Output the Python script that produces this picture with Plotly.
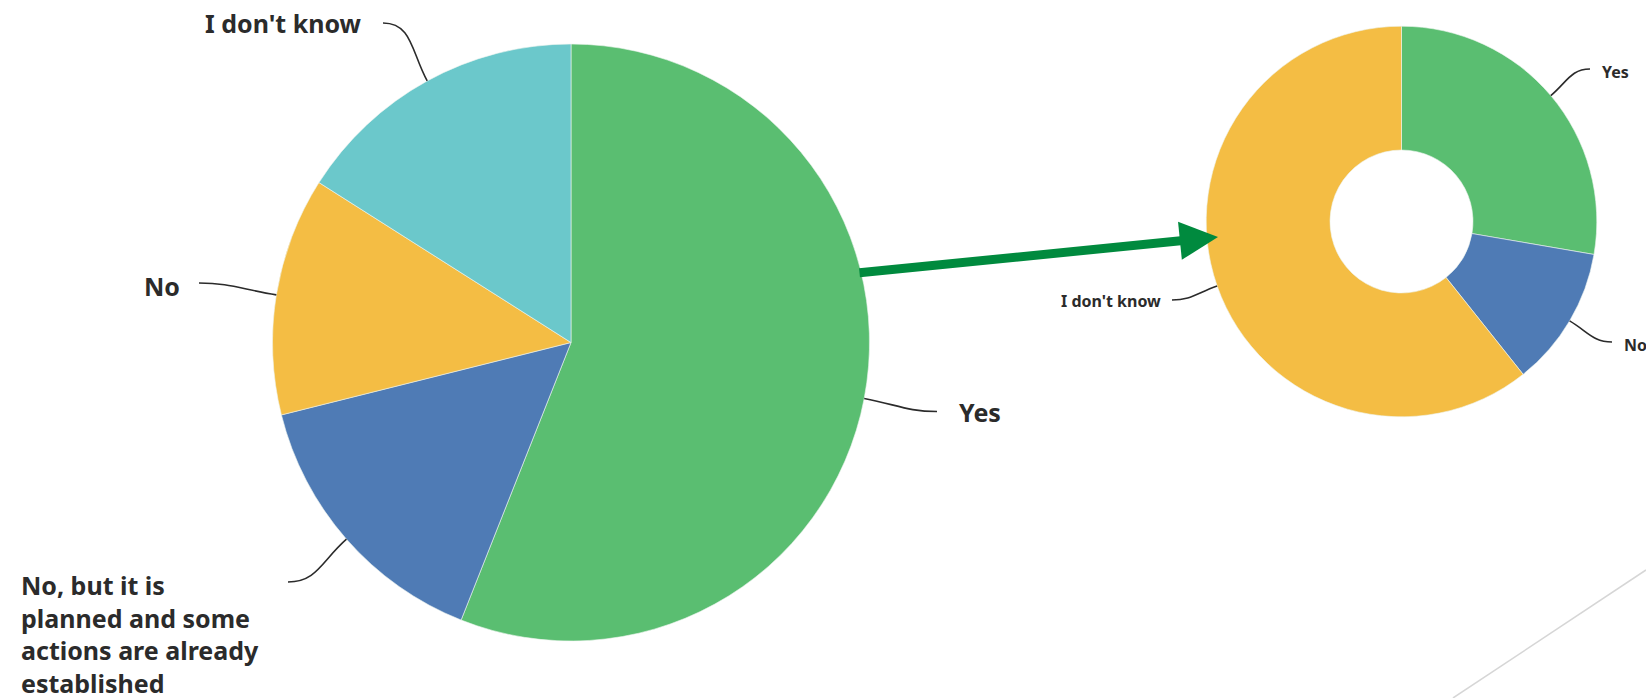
import math
import plotly.graph_objects as go

W, H = 1646, 698

# ---- data ----
main_labels = ["Yes", "No, but it is planned and some actions are already established", "No", "I don't know"]
main_text = ["Yes", "No, but it is<br>planned and some<br>actions are already<br>established", "No", "I don't know"]
main_values = [56.0, 15.1, 12.9, 16.0]

donut_labels = ["Yes", "No", "I don't know"]
donut_values = [27.7, 11.6, 60.7]

# ---- style ----
GREEN = "#5ABE71"
BLUE = "#4F7BB5"
YELLOW = "#F4BD44"
TEAL = "#6BC8CB"
TEXT = "#2b2b2b"
main_colors = [GREEN, BLUE, YELLOW, TEAL]
donut_colors = [GREEN, BLUE, YELLOW]

# pie geometry in pixels
BIG = dict(cx=571, cy=342.5, r=298.5)
SMALL = dict(cx=1401.5, cy=221.5, r=195.3)


def px(x):
    return x / W


def py(y):
    return 1 - y / H


def domain(g):
    return dict(x=[px(g["cx"] - g["r"]), px(g["cx"] + g["r"])],
                y=[py(g["cy"] + g["r"]), py(g["cy"] - g["r"])])


def mid_points(values, g):
    tot = sum(values)
    acc = 0
    out = []
    for v in values:
        a = math.radians((acc + v / 2) / tot * 360)
        acc += v
        dx, dy = math.sin(a), -math.cos(a)
        out.append(((g["cx"] + g["r"] * dx, g["cy"] + g["r"] * dy), (dx, dy)))
    return out


fig = go.Figure()
fig.add_trace(go.Pie(labels=main_labels, values=main_values, sort=False, direction="clockwise",
                     rotation=0, marker=dict(colors=main_colors, line=dict(color="#eef5f0", width=0.6)),
                     textinfo="none", hoverinfo="label+percent", domain=domain(BIG), showlegend=False))
fig.add_trace(go.Pie(labels=donut_labels, values=donut_values, sort=False, direction="clockwise",
                     rotation=0, hole=0.366,
                     marker=dict(colors=donut_colors, line=dict(color="#eef5f0", width=0.6)),
                     textinfo="none", hoverinfo="label+percent", domain=domain(SMALL), showlegend=False))

shapes = []
annotations = []


def leader(start, d, end):
    (x0, y0), (dx, dy) = start, d
    x3, y3 = end
    dist = math.hypot(x3 - x0, y3 - y0)
    x1, y1 = x0 + dx * dist * 0.45, y0 + dy * dist * 0.45
    sgn = 1 if x0 > x3 else -1
    x2, y2 = x3 + sgn * dist * 0.4, y3
    path = "M {:.5f},{:.5f} C {:.5f},{:.5f} {:.5f},{:.5f} {:.5f},{:.5f}".format(
        px(x0), py(y0), px(x1), py(y1), px(x2), py(y2), px(x3), py(y3))
    shapes.append(dict(type="path", path=path, xref="paper", yref="paper",
                       line=dict(color=TEXT, width=1.6)))


# big pie labels: (leader end, text anchor x, text y, xanchor)
big_lab = [
    ((937, 411.5), 957, 412, "left"),
    ((288, 582), 19, 634, "left"),
    ((199, 283), 182, 286, "right"),
    ((383, 23), 364, 23, "right"),
]
for (s, d), (end, tx, ty, xa), t in zip(mid_points(main_values, BIG), big_lab, main_text):
    leader(s, d, end)
    annotations.append(dict(x=px(tx), y=py(ty), xref="paper", yref="paper", text=t,
                            showarrow=False, xanchor=xa, yanchor="middle", align="left",
                            font=dict(family="Noto Sans", size=25, color=TEXT, weight="bold")))

small_lab = [
    ((1590, 69), 1600, 72, "left"),
    ((1612, 342), 1622, 345, "left"),
    ((1172, 300), 1163, 301, "right"),
]
for (s, d), (end, tx, ty, xa), t in zip(mid_points(donut_values, SMALL), small_lab, donut_labels):
    leader(s, d, end)
    annotations.append(dict(x=px(tx), y=py(ty), xref="paper", yref="paper", text=t,
                            showarrow=False, xanchor=xa, yanchor="middle",
                            font=dict(family="Noto Sans", size=16, color=TEXT, weight="bold")))

# green arrow from big pie to donut
tip = (1218, 237)
tail = (858, 273)
annotations.append(dict(x=px(tip[0]), y=py(tip[1]), xref="paper", yref="paper", text="",
                        showarrow=True, ax=tail[0] - tip[0], ay=tail[1] - tip[1],
                        arrowhead=2, arrowsize=0.85, arrowwidth=9, arrowcolor="#008A3E"))

# decorative grey diagonal
shapes.append(dict(type="line", xref="paper", yref="paper", x0=px(1453), y0=py(698),
                   x1=px(1646), y1=py(570), line=dict(color="#d6d6d6", width=1.5)))

fig.update_layout(width=W, height=H, margin=dict(l=0, r=0, t=0, b=0),
                  paper_bgcolor="white", plot_bgcolor="white",
                  shapes=shapes, annotations=annotations, showlegend=False)

fig.write_html("out.html", config={"displayModeBar": False},
               post_script="document.body.style.margin='0';document.body.style.overflow='hidden';")
